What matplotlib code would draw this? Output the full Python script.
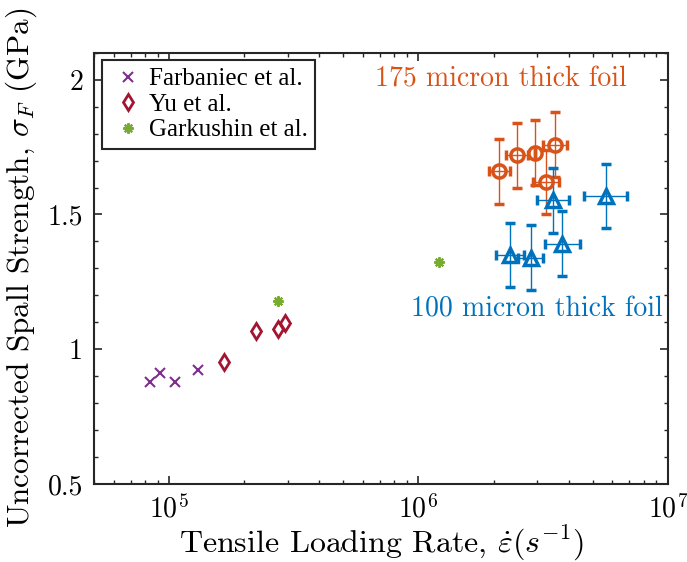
import numpy as np
import matplotlib
matplotlib.use("Agg")
import matplotlib.pyplot as plt
from matplotlib.ticker import LogLocator, MultipleLocator, NullFormatter

plt.rcParams["font.family"] = ["cmr10", "DejaVu Serif"]
plt.rcParams["mathtext.fontset"] = "cm"
plt.rcParams["axes.formatter.use_mathtext"] = True

# Literature data: tensile loading rate (1/s) and spall strength (GPa)
farbaniec_rate = [8.34e4, 9.15e4, 1.057e5, 1.30e5]
farbaniec_sf = [0.877, 0.911, 0.877, 0.921]

yu_rate = [1.667e5, 2.22e5, 2.72e5, 2.92e5]
yu_sf = [0.954, 1.066, 1.075, 1.097]

garkushin_rate = [2.73e5, 1.205e6]
garkushin_sf = [1.177, 1.325]

# Present measurements, 175 micron foil
thick_rate = [2.11e6, 2.48e6, 2.93e6, 3.53e6, 3.25e6]
thick_sf = [1.660, 1.719, 1.729, 1.759, 1.620]
thick_rate_factor = [1.10, 1.11, 1.0, 1.12, 1.13]
thick_sf_err = [0.12, 0.12, 0.12, 0.12, 0.12]

# Present measurements, 100 micron foil
thin_rate = [3.46e6, 5.64e6, 3.78e6, 2.33e6, 2.82e6]
thin_sf = [1.553, 1.568, 1.392, 1.350, 1.340]
thin_rate_factor = [1.16, 1.22, 1.18, 1.14, 1.12]
thin_sf_err = [0.12, 0.12, 0.12, 0.12, 0.12]

c_purple = "#7E2F8E"
c_red = "#A2142F"
c_green = "#77AC30"
c_orange = "#D95319"
c_blue = "#0072BD"
c_axis = "#262626"

fig = plt.figure(figsize=(6.87, 5.62), dpi=100)
ax = fig.add_axes([0.137, 0.139, 0.835, 0.767])

ax.plot(farbaniec_rate, farbaniec_sf, linestyle="none", marker="x",
        color=c_purple, markersize=7, markeredgewidth=1.5, label="Farbaniec et al.")
ax.plot(yu_rate, yu_sf, linestyle="none", marker="d", color=c_red,
        markerfacecolor="none", markersize=8.5, markeredgewidth=2, label="Yu et al.")
ax.plot(garkushin_rate, garkushin_sf, linestyle="none", marker=(8, 2, 0),
        color=c_green, markersize=7.5, markeredgewidth=1.5, label="Garkushin et al.")


def rate_bounds(rate, factor):
    rate = np.asarray(rate)
    factor = np.asarray(factor)
    return np.vstack([rate - rate / factor, rate * factor - rate])


ax.errorbar(thick_rate, thick_sf, yerr=thick_sf_err,
            xerr=rate_bounds(thick_rate, thick_rate_factor),
            fmt="o", color=c_orange, markerfacecolor="none", markersize=9.5,
            markeredgewidth=2.5, elinewidth=1.0, capsize=3.5, capthick=1.0)
ax.errorbar(thin_rate, thin_sf, yerr=thin_sf_err,
            xerr=rate_bounds(thin_rate, thin_rate_factor),
            fmt="^", color=c_blue, markerfacecolor="none", markersize=9.5,
            markeredgewidth=2.5, elinewidth=1.0, capsize=3.5, capthick=1.0)

ax.text(10 ** 6.331, 2.002, "175 micron thick foil", color=c_orange,
        fontsize=20, ha="center", va="center")
ax.text(10 ** 6.475, 1.147, "100 micron thick foil", color=c_blue,
        fontsize=20, ha="center", va="center")

ax.set_xscale("log")
ax.set_xlim(5e4, 1e7)
ax.set_ylim(0.5, 2.1)
ax.xaxis.set_major_locator(LogLocator(base=10, numticks=10))
ax.xaxis.set_minor_locator(LogLocator(base=10, subs=np.arange(2, 10), numticks=20))
ax.xaxis.set_minor_formatter(NullFormatter())
ax.yaxis.set_minor_locator(MultipleLocator(0.1))
ax.set_yticks([0.5, 1.0, 1.5, 2.0])
ax.set_yticklabels(["0.5", "1", "1.5", "2"])

ax.tick_params(which="both", direction="in", top=True, right=True,
               color=c_axis, labelsize=20, labelcolor="black")
ax.tick_params(which="major", length=6, width=1.2, pad=8)
ax.tick_params(which="minor", length=3, width=1.0)
for s in ax.spines.values():
    s.set_color(c_axis)
    s.set_linewidth(1.5)

ax.set_xlabel(r"Tensile Loading Rate, $\dot{\varepsilon}(s^{-1})$", fontsize=23, labelpad=0)
ax.set_ylabel(r"Uncorrected Spall Strength, $\sigma_F$ (GPa)", fontsize=22.5, labelpad=6)

leg = ax.legend(loc="upper left", fancybox=False, framealpha=1,
                prop={"family": ["Liberation Serif"], "size": 18},
                edgecolor=c_axis, handletextpad=0.1, borderpad=0.3,
                labelspacing=0.12, handlelength=1.5, borderaxespad=0.3)
leg.get_frame().set_linewidth(1.5)

fig.savefig("out.png", dpi=100)
